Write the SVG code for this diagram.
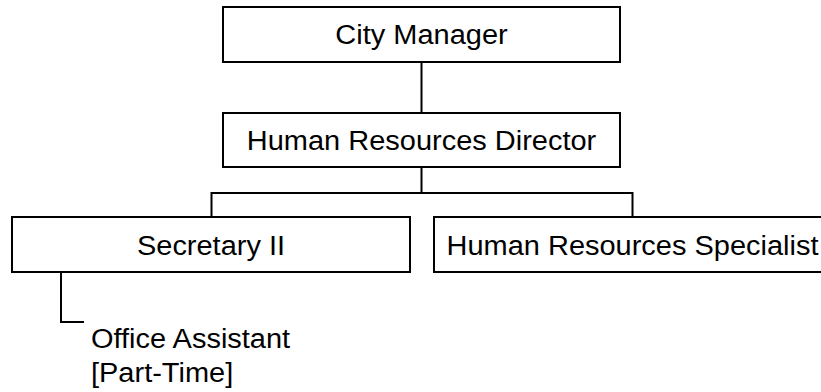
<svg xmlns="http://www.w3.org/2000/svg" width="821" height="392" viewBox="0 0 821 392">
<style>
.box{fill:#fff;stroke:#000;stroke-width:2}
.ln{fill:none;stroke:#000;stroke-width:2}
.t{font-family:"Liberation Sans",Arial,sans-serif;font-size:28px;fill:#000}
.c{text-anchor:middle}
</style>
<rect width="821" height="392" fill="#fff"/>
<g id="connectors">
<path class="ln" d="M421.5 62V113"/>
<path class="ln" d="M421.5 167V193"/>
<path class="ln" d="M211.5 217V193H632.5V217"/>
<path class="ln" d="M61 272V322H84"/>
</g>
<g id="city-manager">
<rect class="box" x="223" y="7" width="397" height="55"/>
<text class="t c" transform="translate(421.5 44) scale(1.035 1)">City Manager</text>
</g>
<g id="hr-director">
<rect class="box" x="223" y="113" width="397" height="54"/>
<text class="t c" transform="translate(421.5 150) scale(1.035 1)">Human Resources Director</text>
</g>
<g id="secretary-ii">
<rect class="box" x="12" y="217" width="398" height="55"/>
<text class="t c" transform="translate(211 254.5) scale(1.035 1)">Secretary II</text>
</g>
<g id="hr-specialist">
<rect class="box" x="434" y="217" width="398" height="55"/>
<text class="t c" transform="translate(632.5 254.5) scale(1.035 1)">Human Resources Specialist</text>
</g>
<g id="office-assistant">
<text class="t" transform="translate(91 347.5) scale(1.035 1)">Office Assistant</text>
<text class="t" transform="translate(91 381.5) scale(1.035 1)">[Part-Time]</text>
</g>
</svg>
